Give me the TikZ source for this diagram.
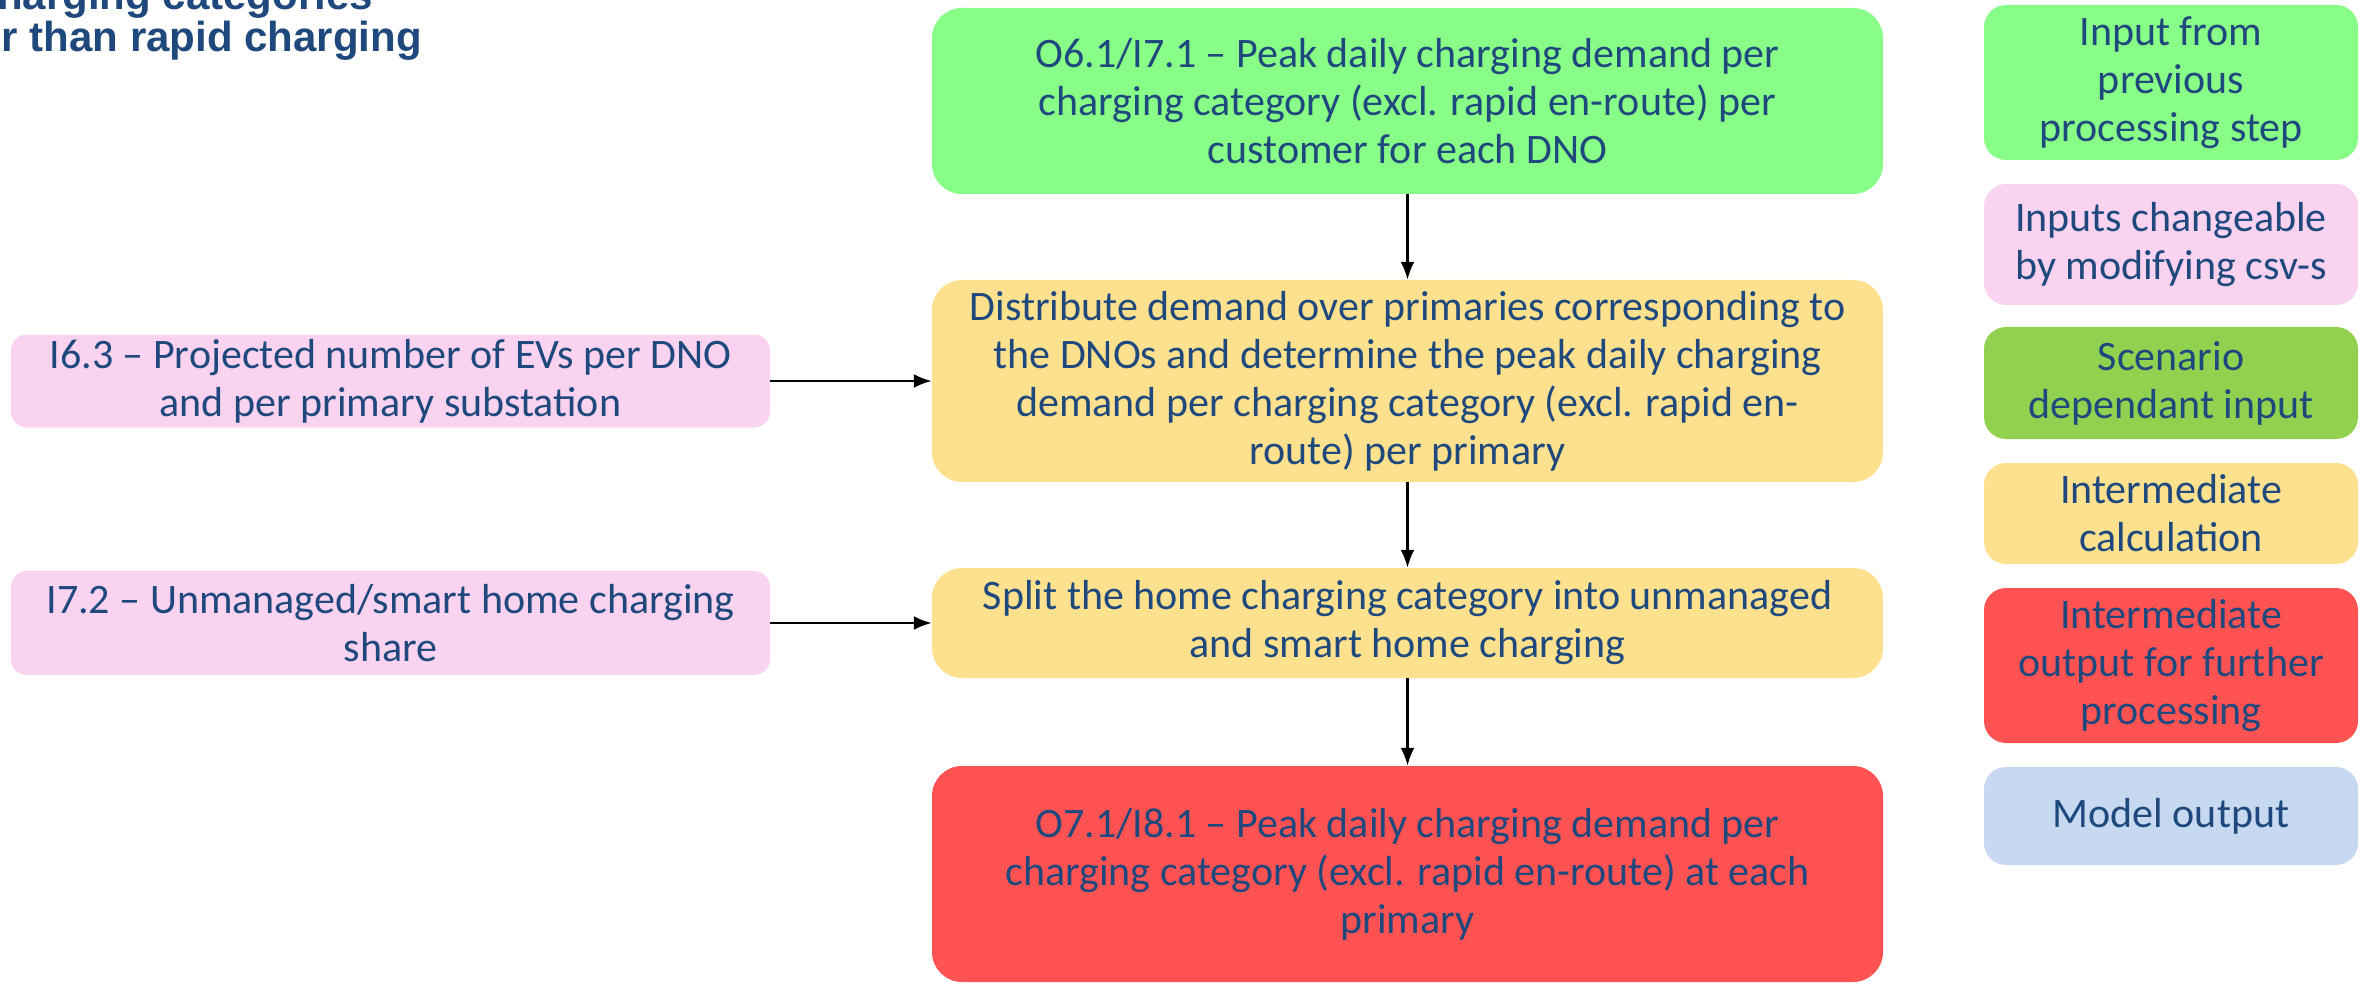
\documentclass[tikz,border=0pt]{standalone}
\usepackage{fontspec}
\setmainfont{Carlito}
\newfontfamily\headfont{Liberation Sans}
\usetikzlibrary{arrows.meta}
\definecolor{txtblue}{HTML}{1F497D}
\definecolor{prevgreen}{HTML}{88FE88}
\definecolor{inpink}{HTML}{F9D3F0}
\definecolor{scengreen}{HTML}{92D050}
\definecolor{calcyellow}{HTML}{FEE18E}
\definecolor{outred}{HTML}{FF5252}
\definecolor{modblue}{HTML}{C6D9F1}
\begin{document}
\begin{tikzpicture}[x=1pt,y=-1pt,
    txt/.style={text=txtblue,align=center,inner sep=0pt,
      font=\fontsize{42}{48}\selectfont},
    mainbox/.style={txt,rounded corners=30pt,minimum width=951pt},
    inbox/.style={txt,rounded corners=16pt,minimum width=759pt,fill=inpink},
    keybox/.style={txt,rounded corners=22pt,minimum width=374pt},
    flow/.style={line width=2.5pt,-{Latex[length=18pt,width=14pt]}}]
  \useasboundingbox (0,0) rectangle (2364,984);
  \clip (0,0) rectangle (2364,984);
  % heading, cut off at the edge
  \node[anchor=base east,inner sep=0pt,text=txtblue,
    font=\headfont\bfseries\fontsize{42}{42}\selectfont] (head1) at (373,10) {harging categories};
  \node[anchor=base east,inner sep=0pt,text=txtblue,
    font=\headfont\bfseries\fontsize{42}{42}\selectfont] (head2) at (422,52) {r than rapid charging};
  % main chain
  \node[mainbox,fill=prevgreen,minimum height=186pt] (src) at (1407.5,101)
    {O6.1/I7.1 – Peak daily charging demand per\\charging category (excl. rapid en-route) per\\customer for each DNO};
  \node[mainbox,fill=calcyellow,minimum height=202pt] (dist) at (1407.5,381)
    {Distribute demand over primaries corresponding to\\the DNOs and determine the peak daily charging\\demand per charging category (excl. rapid en-\\route) per primary};
  \node[mainbox,fill=calcyellow,minimum height=110pt] (split) at (1407.5,623)
    {Split the home charging category into unmanaged\\and smart home charging};
  \node[mainbox,fill=outred,minimum height=216pt] (out) at (1407.5,874)
    {O7.1/I8.1 – Peak daily charging demand per\\charging category (excl. rapid en-route) at each\\primary};
  % inputs
  \node[inbox,minimum height=93pt] (evs) at (390.5,381)
    {I6.3 – Projected number of EVs per DNO\\and per primary substation};
  \node[inbox,minimum height=104pt] (share) at (390.5,623)
    {I7.2 – Unmanaged/smart home charging\\share};
  % key
  \node[keybox,fill=prevgreen,minimum height=155pt] (key1) at (2171,82.5)
    {Input from\\previous\\processing step};
  \node[keybox,fill=inpink,minimum height=121pt] (key2) at (2171,244.5)
    {Inputs changeable\\by modifying csv-s};
  \node[keybox,fill=scengreen,minimum height=112pt] (key3) at (2171,383)
    {Scenario\\dependant input};
  \node[keybox,fill=calcyellow,minimum height=101pt] (key4) at (2171,513.5)
    {Intermediate\\calculation};
  \node[keybox,fill=outred,minimum height=155pt] (key5) at (2171,665.5)
    {Intermediate\\output for further\\processing};
  \node[keybox,fill=modblue,minimum height=98pt] (key6) at (2171,816)
    {Model output};
  \begin{scope}[flow]
    \draw (src) to (dist);
    \draw (dist) to (split);
    \draw (split) to (out);
    \draw (evs) to (dist);
    \draw (share) to (split);
  \end{scope}
\end{tikzpicture}
\end{document}
